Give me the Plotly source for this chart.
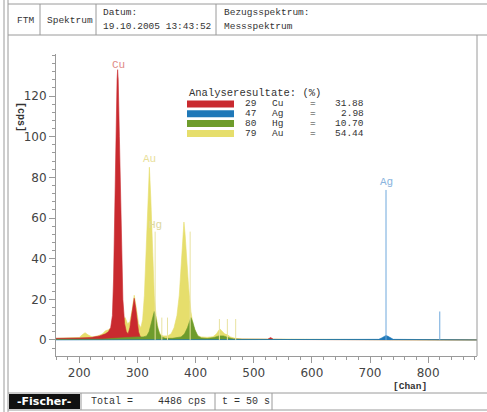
import plotly.graph_objects as go

# ---------------- data ----------------
cu_chan = [160, 180, 200, 220, 235, 245, 250, 254, 257, 259, 261, 263, 265, 266, 267, 269, 271, 273, 275, 278,
           281, 284, 287, 290, 292, 294.5, 297, 299, 302, 305, 310, 320, 400, 500, 524, 529, 534, 560, 700, 884]
cu_cps = [0.8, 0.8, 1.0, 1.2, 2.0, 3.0, 4.0, 6, 12, 30, 65, 105, 128, 133, 128, 100, 70, 42, 20, 8,
          4, 3, 6, 12, 17, 20.5, 16, 10, 4, 1.5, 0.7, 0.4, 0.3, 0.3, 0.3, 1.2, 0.3, 0.2, 0.1, 0]

au_chan = [160, 180, 200, 205, 210, 215, 222, 232, 240, 245, 250, 255, 262, 270, 275, 279, 283, 287, 291, 294.5,
           298, 302, 306, 309, 312, 315, 318, 320.6, 323, 326, 329, 332, 336, 340, 345, 352, 358, 363, 368, 372,
           376, 378, 380, 382, 385, 388, 392, 396, 400, 404, 410, 420, 430, 436, 440, 442, 445, 450, 455, 460,
           468, 480, 520, 600, 700, 884]
au_cps = [0.8, 1, 1.2, 2.5, 3.6, 2.5, 1.5, 2, 3, 4.5, 5, 6, 8, 9, 10, 11, 8, 9, 15, 22,
          16, 8, 6, 10, 22, 45, 70, 85, 70, 42, 22, 12, 5, 2.5, 2, 2, 3, 6, 12, 22,
          42, 52, 58, 52, 38, 26, 14, 7, 4, 2, 1.5, 1.3, 1.6, 3, 4.8, 5.4, 4.5, 3, 2.5, 1.5,
          0.8, 0.5, 0.4, 0.3, 0.2, 0]

hg_chan = [160, 240, 260, 280, 290, 300, 310, 316, 320, 324, 327, 329, 331, 334, 338, 342, 348, 360, 375, 381,
           386, 389, 392, 395, 399, 404, 410, 420, 432, 440, 448, 456, 465, 480, 884]
hg_cps = [0.3, 0.4, 0.8, 1.2, 1.5, 1.5, 1.5, 2, 4, 8, 12, 14, 12, 7, 3, 1.5, 0.8, 0.8, 1.5, 3,
          6, 9, 11, 9, 5, 2, 1, 0.7, 1.2, 2, 2, 1.2, 0.5, 0.3, 0]

ag_chan = [160, 700, 715, 720, 724, 727.5, 731, 735, 740, 884]
ag_cps = [0, 0.1, 0.3, 1, 1.8, 2.2, 1.8, 1, 0.3, 0]

au_line_chan = [330.5, 342, 351.7, 390.7, 441, 454.7, 469]
au_line_cps = [53.3, 11, 11, 53.3, 10.3, 10.3, 10.3]
ag_line_chan = [727.5, 820]
ag_line_cps = [73.8, 14]

peak_labels = ["Cu", "Au", "Hg", "Ag"]
peak_label_chan = [267, 320, 331, 729]
peak_label_cps = [135.5, 89, 56.6, 77.7]

legend_z = ["29", "47", "80", "79"]
legend_sym = ["Cu", "Ag", "Hg", "Au"]
legend_pct = ["31.88", "2.98", "10.70", "54.44"]

y_ticks = [0, 20, 40, 60, 80, 100, 120]
x_ticks = [200, 300, 400, 500, 600, 700, 800]

# ---------------- styling ----------------
RED = "#c92a2f"
BLUE = "#1f78b8"
GREEN = "#6e9c2c"
YELLOW = "#e6de6c"
LINE_YEL = "#e8e2a0"
LINE_BLUE = "#6fa8dc"
legend_colors = [RED, BLUE, GREEN, YELLOW]
label_colors = ["#e08a86", "#e8e09a", "#ddd8a0", "#8ab4de"]
FRAME = "#9a9a9a"
TXT = "#333333"
MONO = "Liberation Mono"

W, H = 487, 412
L, R, T, B = 56, 477, 54, 356


def px(x):
    return (x - L) / (R - L)


def py(y):
    return (B - y) / (B - T)


fig = go.Figure()


def area(xs, ys, color):
    fig.add_trace(go.Scatter(x=xs, y=ys, mode="lines", fill="tozeroy",
                             line=dict(color=color, width=0.6), fillcolor=color,
                             hoverinfo="skip", showlegend=False))


area(au_chan, au_cps, YELLOW)
area(cu_chan, cu_cps, RED)
area(hg_chan, hg_cps, GREEN)
area(ag_chan, ag_cps, BLUE)


def vlines(xs, hs, color):
    lx, ly = [], []
    for c, h in zip(xs, hs):
        lx += [c, c, None]
        ly += [0, h, None]
    fig.add_trace(go.Scatter(x=lx, y=ly, mode="lines", line=dict(color=color, width=1),
                             hoverinfo="skip", showlegend=False))


vlines(au_line_chan, au_line_cps, LINE_YEL)
vlines(ag_line_chan, ag_line_cps, LINE_BLUE)

ann = []
for t, c, v, col in zip(peak_labels, peak_label_chan, peak_label_cps, label_colors):
    ann.append(dict(x=c, y=v, xref="x", yref="y", text=t, showarrow=False,
                    xanchor="center", yanchor="middle",
                    font=dict(family=MONO, size=11, color=col)))

# legend box (analysis results)
ann.append(dict(x=px(187), y=py(93.5), xref="paper", yref="paper", text="Analyseresultate: (%)",
                showarrow=False, xanchor="left", yanchor="middle",
                font=dict(family=MONO, size=10.5, color=TXT)))
shapes = []
row_y = [104, 113.8, 123.6, 133.4]
for i in range(4):
    yc = row_y[i]
    shapes.append(dict(type="rect", xref="paper", yref="paper", x0=px(187), x1=px(234),
                       y0=py(yc - 3.5), y1=py(yc + 3.5), fillcolor=legend_colors[i], line=dict(width=0)))
    for txt, xx, anc in [(legend_z[i], 243, "left"), (legend_sym[i], 270, "left"),
                         ("=", 308, "left"), (legend_pct[i], 366, "right")]:
        ann.append(dict(x=px(xx), y=py(yc), xref="paper", yref="paper", text=txt, showarrow=False,
                        xanchor=anc, yanchor="middle", font=dict(family=MONO, size=9.5, color=TXT)))

# axis titles
ann.append(dict(x=px(410), y=py(386), xref="paper", yref="paper", text="<b>[Chan]</b>", showarrow=False,
                xanchor="center", yanchor="middle",
                font=dict(family=MONO, size=9.5, color=TXT)))
ann.append(dict(x=px(20), y=py(117), xref="paper", yref="paper", text="<b>[cps]</b>", showarrow=False,
                xanchor="center", yanchor="middle",
                textangle=90, font=dict(family=MONO, size=10, color=TXT)))

# header texts
for txt, xx, yy in [("FTM", 15, 20), ("Spektrum", 45, 20), ("Datum:", 101, 12.7),
                    ("19.10.2005 13:43:52", 101, 26.7), ("Bezugsspektrum:", 222, 12.7),
                    ("Messspektrum", 222, 26.7)]:
    ann.append(dict(x=px(xx), y=py(yy), xref="paper", yref="paper", text=txt, showarrow=False,
                    xanchor="left", yanchor="middle", font=dict(family=MONO, size=9.5, color=TXT)))

# footer texts
for txt, xx, yy, anc in [("Total =", 89, 401.5, "left"), ("4486 cps", 208, 401.5, "right"),
                         ("t = 50 s", 220, 401.5, "left")]:
    ann.append(dict(x=px(xx), y=py(yy), xref="paper", yref="paper", text=txt, showarrow=False,
                    xanchor=anc, yanchor="middle", font=dict(family=MONO, size=10, color=TXT)))
ann.append(dict(x=px(44), y=py(401.5), xref="paper", yref="paper", text="<b>-Fischer-</b>",
                showarrow=False, xanchor="center", yanchor="middle",
                font=dict(family="DejaVu Sans", size=11, color="white")))


def line(x0, y0, x1, y1, w=1, c=FRAME):
    shapes.append(dict(type="line", xref="paper", yref="paper", x0=px(x0), y0=py(y0),
                       x1=px(x1), y1=py(y1), line=dict(color=c, width=w)))


# outer frame
line(4, 0, 4, 412)
line(8, 0, 8, 412)
line(8, 4, 487, 4)
line(8, 35, 487, 35)
for xx in [40, 96, 216]:
    line(xx, 4, xx, 35)
line(477, 35, 477, 356)
line(8, 393, 487, 393)
line(8, 410, 487, 410)
for xx in [81, 215, 272]:
    line(xx, 393, xx, 410)
shapes.append(dict(type="rect", xref="paper", yref="paper", x0=px(9), x1=px(80),
                   y0=py(409), y1=py(394), fillcolor="#111111", line=dict(width=0)))

fig.update_layout(
    width=W, height=H,
    margin=dict(l=L, r=W - R, t=T, b=H - B),
    paper_bgcolor="white", plot_bgcolor="white",
    annotations=ann, shapes=shapes,
    xaxis=dict(range=[160, 884], tickvals=x_ticks, ticks="outside", ticklen=6, tickcolor=FRAME,
               showline=True, linecolor=FRAME, linewidth=1, showgrid=False, zeroline=False,
               tickfont=dict(family="DejaVu Sans", size=12, color="#444"),
               minor=dict(dtick=20, tick0=0, ticks="outside", ticklen=3, tickcolor=FRAME)),
    yaxis=dict(range=[-7.9, 140.7], tickvals=y_ticks, ticks="outside", ticklen=6, tickcolor=FRAME,
               showline=True, linecolor=FRAME, linewidth=1, showgrid=False,
               zeroline=True, zerolinecolor="#c8c8c8", zerolinewidth=1,
               tickfont=dict(family="DejaVu Sans", size=12, color="#444"),
               minor=dict(dtick=4, tick0=0, ticks="outside", ticklen=3, tickcolor=FRAME)),
)

fig.write_html("out.html")
